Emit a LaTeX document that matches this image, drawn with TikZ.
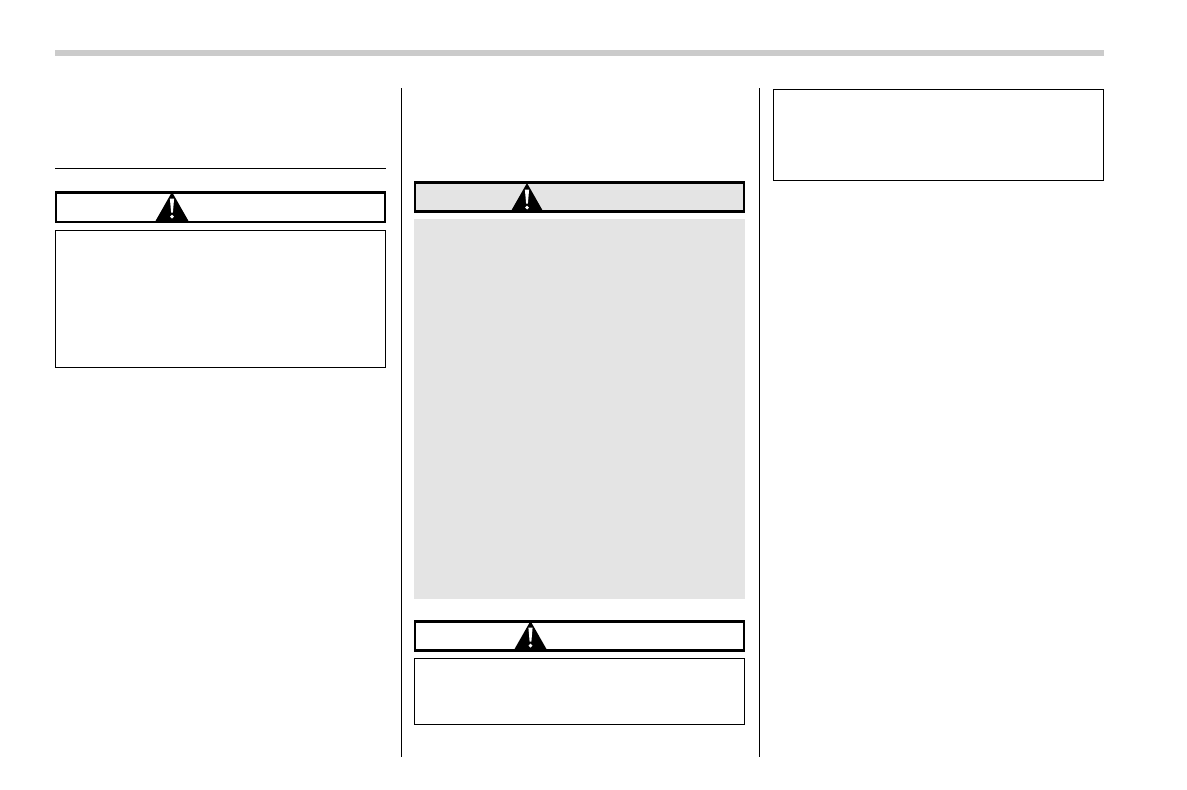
\documentclass[tikz,border=0pt]{standalone}
\usetikzlibrary{positioning}
\definecolor{barGray}{HTML}{CBCBCB}
\definecolor{panelGray}{HTML}{E4E4E4}
\tikzset{
    banner/.style={draw=black, line width=2.8pt, minimum width=329pt, minimum height=29.5pt, inner sep=0pt},
    textbox/.style={draw=black, line width=1pt, minimum width=330pt, inner sep=0pt},
    panel/.style={fill=panelGray, minimum width=331pt, minimum height=380pt, inner sep=0pt},
    rule/.style={draw=black, line width=0.9pt},
    warnsign/.pic={
        \fill[black] (-16.5,29) -- (0,0) -- (16.5,29) -- cycle;
        \fill[white] (-2.1,6.5) -- (2.1,6.5) -- (0.9,20.5) -- (-0.9,20.5) -- cycle;
        \fill[white] (0,24.6) circle (1.9);
    }
}
\begin{document}
\begin{tikzpicture}[x=1pt, y=-1pt]
        \useasboundingbox (0,0) rectangle (1187,790);
        \fill[barGray] (55,50) rectangle (1104,56);

        % column separators
        \coordinate (sep_left_top)     at (401,88);
        \coordinate (sep_left_bottom)  at (401,757);
        \coordinate (sep_right_top)    at (759.5,88);
        \coordinate (sep_right_bottom) at (759.5,757);
        \coordinate (rule_start)       at (55,168.5);
        \coordinate (rule_end)         at (386,168.5);
        \draw[rule] (sep_left_top) -- (sep_left_bottom);
        \draw[rule] (sep_right_top) -- (sep_right_bottom);
        \draw[rule] (rule_start) -- (rule_end);

        % left column
        \node[banner]  (banner_left) at (220.5,207.2) {};
        \node[textbox, minimum height=137pt] (box_left) at (220.5,298.5) {};
        \pic at (172,192) {warnsign};

        % middle column
        \node[panel] (panel_middle) at (579.5,409) {};
        \node[banner, fill=panelGray] (banner_middle) at (579.5,197) {};
        \pic at (527,183) {warnsign};
        \node[banner]  (banner_lower) at (579.5,636) {};
        \node[textbox, minimum height=66pt] (box_lower) at (579.5,691) {};
        \pic at (530.5,621) {warnsign};

        % right column
        \node[textbox, minimum height=91pt] (box_right) at (938,134.5) {};
    \end{tikzpicture}
\end{document}
